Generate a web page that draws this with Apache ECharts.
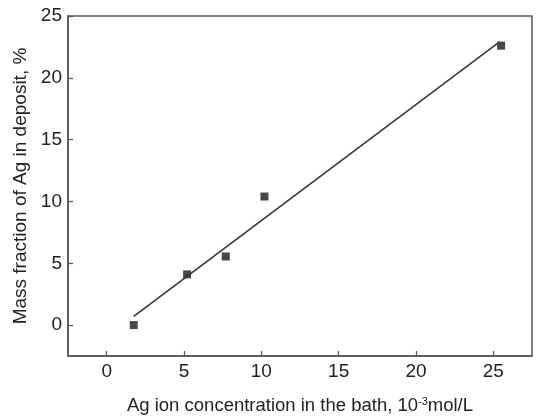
<!DOCTYPE html>
<html>
<head>
<meta charset="utf-8">
<script src="https://cdn.jsdelivr.net/npm/echarts@6/dist/echarts.min.js"></script>
<style>
  html, body { margin: 0; padding: 0; background: #fff; }
  #chart { width: 538px; height: 418px; }
</style>
</head>
<body>
<div id="chart"></div>
<script>
// measured points
const concentration = [1.75, 5.2, 7.7, 10.2, 25.5]
const massFraction = [0.0, 4.1, 5.55, 10.4, 22.6]
// linear fit line endpoints as drawn
const fitX = [1.75, 25.4]
const fitY = [0.7, 22.9]
// tick positions
const xTicks = [0, 5, 10, 15, 20, 25]
const yTicks = [0, 5, 10, 15, 20, 25]

const axisColor = '#555'
const font = '"Liberation Sans", Arial, sans-serif'

const chart = echarts.init(document.getElementById('chart'))
chart.setOption({
  animation: false,
  grid: {
    left: 68, top: 16, right: 6, bottom: 62,
    outerBoundsMode: 'none',
    show: true, borderColor: axisColor, borderWidth: 1.5
  },
  xAxis: {
    type: 'value',
    min: -2.5, max: 27.5,
    axisLine: { show: true, onZero: false, lineStyle: { color: axisColor, width: 1.5 } },
    axisTick: { show: true, inside: true, length: 5, customValues: xTicks, lineStyle: { color: axisColor, width: 1.2 } },
    splitLine: { show: false },
    axisLabel: { color: '#222', fontSize: 19, fontFamily: font, margin: 6, customValues: xTicks },
    name: '{t|Ag ion concentration in the bath, 10}{s|-3}{t|mol/L}',
    nameLocation: 'middle',
    nameGap: 40,
    nameTextStyle: {
      rich: {
        t: { fontSize: 18.5, fontFamily: font, color: '#222' },
        s: { fontSize: 11, fontFamily: font, color: '#222', verticalAlign: 'top', padding: [0, 0, 9, 0] }
      }
    }
  },
  yAxis: {
    type: 'value',
    min: -2.5, max: 25,
    axisLine: { show: true, onZero: false, lineStyle: { color: axisColor, width: 1.5 } },
    axisTick: { show: true, inside: true, length: 5, customValues: yTicks, lineStyle: { color: axisColor, width: 1.2 } },
    splitLine: { show: false },
    axisLabel: { color: '#222', fontSize: 19, fontFamily: font, margin: 6, customValues: yTicks },
    name: 'Mass fraction of Ag in deposit, %',
    nameLocation: 'middle',
    nameGap: 33,
    nameTextStyle: { fontSize: 19, fontFamily: font, color: '#222', verticalAlign: 'bottom' }
  },
  series: [
    {
      type: 'line',
      data: fitX.map((x, i) => [x, fitY[i]]),
      symbol: 'none',
      lineStyle: { color: '#333', width: 1.5 }
    },
    {
      type: 'scatter',
      data: concentration.map((x, i) => [x, massFraction[i]]),
      symbol: 'rect',
      symbolSize: 8,
      itemStyle: { color: '#1a1a1a' }
    }
  ]
})
</script>
</body>
</html>
